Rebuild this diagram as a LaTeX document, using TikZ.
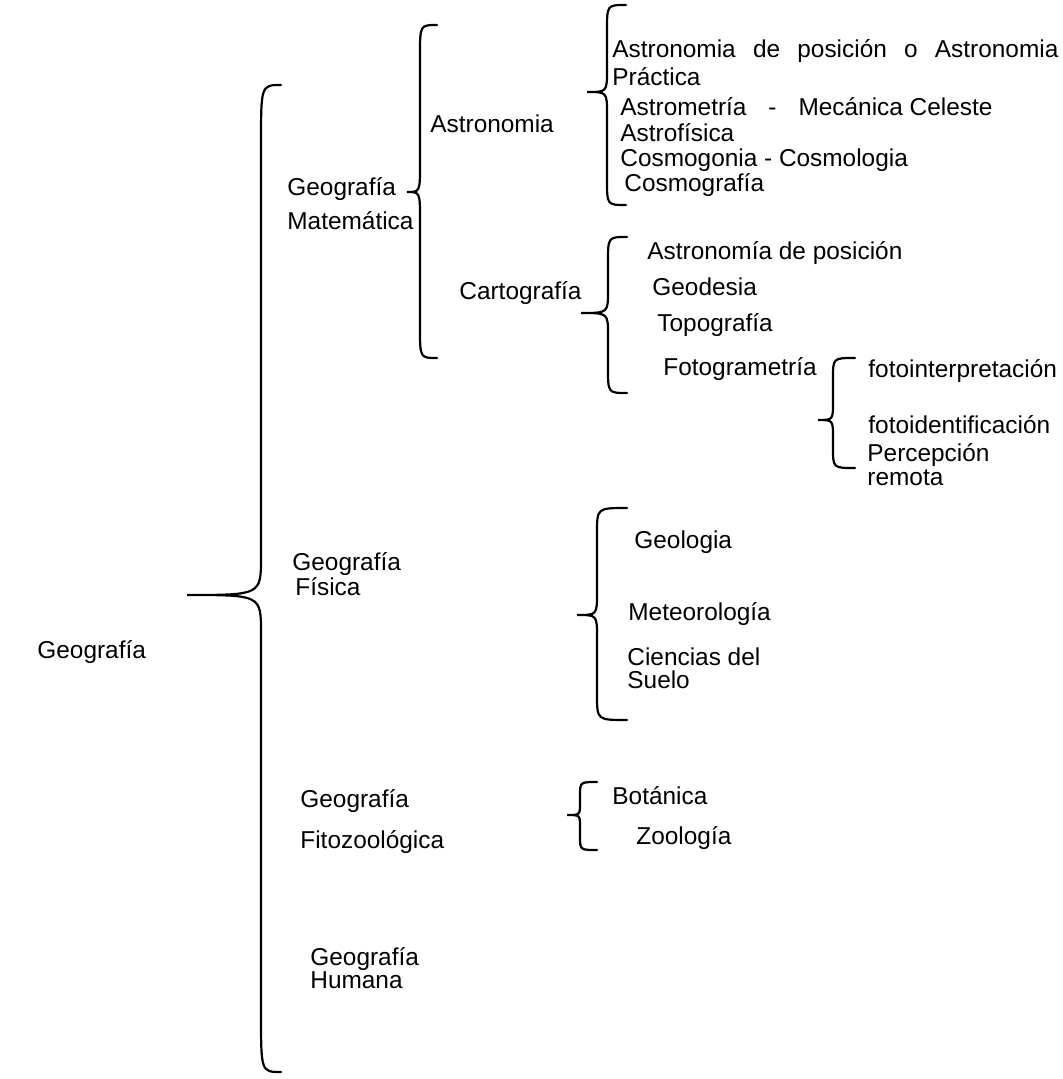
\documentclass[tikz,border=0pt]{standalone}
\usepackage{fontspec}
\setmainfont{Liberation Sans}
\usepackage{tikz}
\usetikzlibrary{positioning}

% curly brace: xend, xstem, xtip, ytop, ytip, ybot, rend, rtip
\newcommand{\llave}[8]{%
  \draw[brace] (#1,#4) .. controls (#2,#4) .. (#2,#4+#7)
    -- (#2,#5-#8) .. controls (#2,#5) .. (#3,#5)
    .. controls (#2,#5) .. (#2,#5+#8)
    -- (#2,#6-#7) .. controls (#2,#6) .. (#1,#6);}

\begin{document}
\begin{tikzpicture}[x=0.5pt, y=-0.5pt,
  lbl/.style={anchor=base west, inner sep=0pt, align=left,
    font=\fontsize{12.2}{11.5}\selectfont},
  brace/.style={line width=1.1pt, line cap=round}]
  \useasboundingbox (0,0) rectangle (1062,1079);

  % Root
  \node[lbl] (geo) at (37, 658) {Geografía};
  \llave{281}{261}{187}{85}{595}{1072}{60}{38}

  % Geografia Matematica
  \node[lbl] (mat) at (287, 230) {Geografía\\[4.5pt]Matemática};
  \llave{437}{420}{407}{25}{192}{358}{30}{28}

  % Astronomia
  \node[lbl] (astro) at (430, 133) {Astronomia};
  \llave{626}{607}{587}{5}{92}{205}{25}{22}
  \node[lbl] (app) at (612, 86)
    {\makebox[223pt][s]{Astronomia de posición o Astronomia}\\[1.5pt]Práctica};
  \node[lbl] (ame) at (620, 116)
    {Astrometría\hspace{0.9em}-\hspace{0.9em}Mecánica Celeste};
  \node[lbl] (afis) at (620, 142) {Astrofísica};
  \node[lbl] (cosm) at (620, 167) {Cosmogonia - Cosmologia};
  \node[lbl] (cgra) at (624, 192) {Cosmografía};

  % Cartografia
  \node[lbl] (carto) at (459, 300) {Cartografía};
  \llave{627}{608}{581}{237}{313}{393}{25}{22}
  \node[lbl] (apos) at (647, 260) {Astronomía de posición};
  \node[lbl] (geod) at (652, 296) {Geodesia};
  \node[lbl] (topo) at (657, 332) {Topografía};
  \node[lbl] (foto) at (663, 376) {Fotogrametría};

  % Fotogrametria
  \llave{855}{833}{818}{358}{420}{468}{20}{18}
  \node[lbl] (finter) at (868, 378) {fotointerpretación};
  \node[lbl] (fident) at (868, 433) {fotoidentificación};
  \node[lbl] (percep) at (867, 485) {Percepción\\[0.5pt]remota};

  % Geografia Fisica
  \node[lbl] (fis) at (292, 595) {Geografía\\[-0.5pt]\hspace{1.5pt}Física};
  \llave{627}{597}{577}{508}{615}{720}{25}{22}
  \node[lbl] (geol) at (634, 548) {Geologia};
  \node[lbl] (meteo) at (628, 620) {Meteorología};
  \node[lbl] (suelo) at (627, 688) {Ciencias del\\Suelo};

  % Geografia Fitozoologica
  \node[lbl] (fito) at (300, 848) {Geografía\\[7.5pt]Fitozoológica};
  \llave{597}{580}{567}{782}{815}{850}{14}{12}
  \node[lbl] (bota) at (612, 804) {Botánica};
  \node[lbl] (zoo) at (636, 844) {Zoología};

  % Geografia Humana
  \node[lbl] (hum) at (310, 988) {Geografía\\Humana};
\end{tikzpicture}
\end{document}
